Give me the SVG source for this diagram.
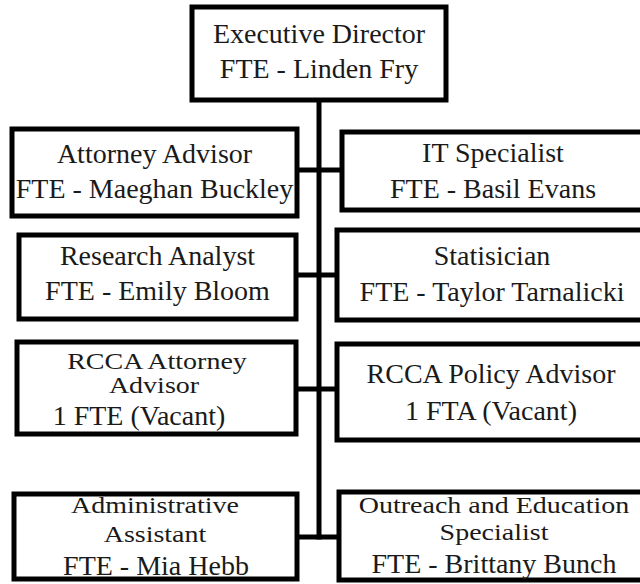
<svg xmlns="http://www.w3.org/2000/svg" width="640" height="584" viewBox="0 0 640 584">
<style>
.box{fill:#fff;stroke:#000;stroke-width:5}
.t{font-family:"Liberation Serif","Times New Roman",serif;font-size:28px;fill:#1a1a1a;text-anchor:middle}
.c{stroke:#000;stroke-width:5;fill:none}
</style>
<rect x="0" y="0" width="640" height="584" fill="#fff"/>
<g id="connectors">
<line class="c" x1="319" y1="100" x2="319" y2="539.5"/>
<line class="c" x1="297" y1="170" x2="342" y2="170"/>
<line class="c" x1="296" y1="275" x2="337" y2="275"/>
<line class="c" x1="296" y1="389" x2="337" y2="389"/>
<line class="c" x1="297" y1="537" x2="339" y2="537"/>
</g>
<g id="exec">
<rect class="box" x="192" y="7" width="254" height="93"/>
<text class="t" x="319" y="43">Executive Director</text>
<text class="t" x="319" y="78">FTE - Linden Fry</text>
</g>
<g id="attorney">
<rect class="box" x="12" y="129" width="285" height="87"/>
<text class="t" x="154.5" y="163">Attorney Advisor</text>
<text class="t" x="154.5" y="198">FTE - Maeghan Buckley</text>
</g>
<g id="it">
<rect class="box" x="342" y="132" width="320" height="78"/>
<text class="t" x="493" y="162">IT Specialist</text>
<text class="t" x="493" y="198">FTE - Basil Evans</text>
</g>
<g id="research">
<rect class="box" x="19" y="235" width="277" height="84"/>
<text class="t" x="157.5" y="265">Research Analyst</text>
<text class="t" x="157.5" y="300">FTE - Emily Bloom</text>
</g>
<g id="stat">
<rect class="box" x="337" y="230" width="320" height="90"/>
<text class="t" x="492" y="265">Statisician</text>
<text class="t" x="492" y="301">FTE - Taylor Tarnalicki</text>
</g>
<g id="rcca-attorney">
<rect class="box" x="17" y="342" width="279" height="92"/>
<text class="t" transform="translate(157,369) scale(1,0.8)">RCCA Attorney</text>
<text class="t" transform="translate(154,393) scale(1,0.8)">Advisor</text>
<text class="t" x="139" y="425">1 FTE (Vacant)</text>
</g>
<g id="rcca-policy">
<rect class="box" x="337" y="344" width="320" height="96"/>
<text class="t" x="491" y="383">RCCA Policy Advisor</text>
<text class="t" x="491" y="420">1 FTA (Vacant)</text>
</g>
<g id="admin">
<rect class="box" x="14" y="494" width="283" height="85"/>
<text class="t" transform="translate(155,513) scale(1,0.8)">Administrative</text>
<text class="t" transform="translate(155,542) scale(1,0.8)">Assistant</text>
<text class="t" x="156" y="575">FTE - Mia Hebb</text>
</g>
<g id="outreach">
<rect class="box" x="339" y="492" width="320" height="88"/>
<text class="t" transform="translate(494,513) scale(1,0.8)">Outreach and Education</text>
<text class="t" transform="translate(494,540) scale(1,0.8)">Specialist</text>
<text class="t" x="494" y="573">FTE - Brittany Bunch</text>
</g>
</svg>
